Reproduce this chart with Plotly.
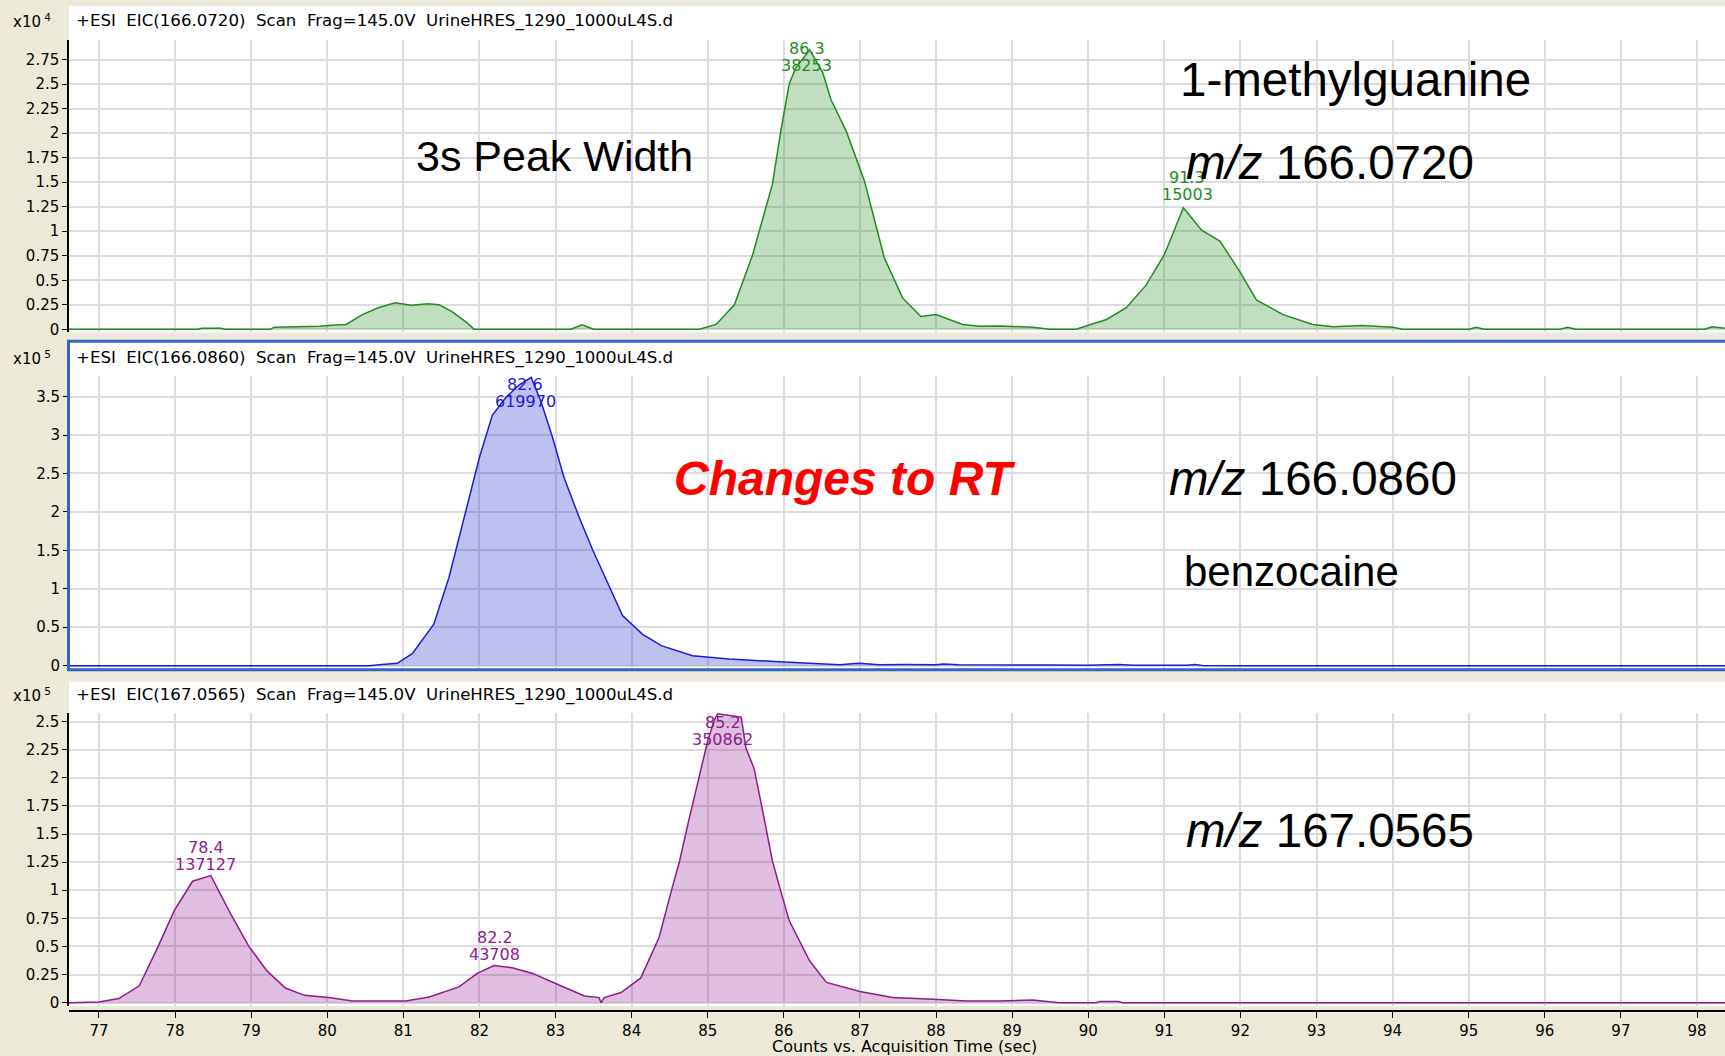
import plotly.graph_objects as go

W, H = 1725, 1056
HF = 1.007          # vertical compensation factor for the rendered page
FIG_H = round(H * HF)

# ---------------- data (retention time in sec, intensity in counts) ----------------
rt_green = [76.6, 78.3, 78.35, 78.6, 78.65, 79.25, 79.3, 79.9, 80.1, 80.25, 80.46, 80.67, 80.89,
            81.1, 81.32, 81.47, 81.64, 81.83, 81.93, 83.2, 83.35, 83.5, 84.89, 85.11, 85.35,
            85.59, 85.85, 85.96, 86.07, 86.16, 86.34, 86.51, 86.62, 86.82, 87.06, 87.32, 87.56,
            87.8, 88.0, 88.35, 88.57, 88.83, 89.27, 89.49, 89.84, 89.97, 90.24, 90.5, 90.76,
            91.0, 91.25, 91.49, 91.73, 91.99, 92.21, 92.56, 92.95, 93.22, 93.6, 94.0, 94.13,
            95.0, 95.1, 95.2, 96.2, 96.3, 96.4, 98.1, 98.2, 98.37]
int_green = [0, 0, 100, 100, 0, 0, 200, 300, 450, 500, 1500, 2200, 2700,
             2450, 2600, 2500, 1800, 700, 0, 0, 450, 0, 0, 500, 2500,
             7600, 14800, 20200, 25000, 26700, 28500, 26200, 23400, 20200, 15100, 7300, 3200,
             1300, 1500, 500, 300, 350, 200, 0, 0, 300, 1000, 2200, 4500,
             7600, 12400, 10100, 9000, 5900, 3000, 1500, 500, 250, 400, 200, 0,
             0, 200, 0, 0, 200, 0, 0, 250, 100]

rt_blue = [76.6, 80.55, 80.68, 80.92, 81.12, 81.4, 81.6, 81.76, 81.87, 82.0, 82.17, 82.35,
           82.52, 82.68, 82.81, 82.96, 83.11, 83.31, 83.49, 83.71, 83.88, 84.14, 84.39, 84.8,
           85.28, 85.94, 86.34, 86.73, 86.99, 87.25, 87.6, 88.0, 88.1, 88.3, 89.5, 90.0,
           90.4, 90.6, 91.3, 91.4, 91.5, 92.0, 98.37]
int_blue = [0, 0, 1000, 3000, 16000, 54000, 115000, 176000, 219000, 271000, 326000, 349000,
            365000, 375000, 343000, 297000, 245000, 193000, 150000, 102000, 65000, 41000, 26000, 13000,
            8700, 5000, 3500, 1300, 3000, 1300, 1500, 1000, 2000, 1000, 800, 600,
            1500, 500, 600, 1500, 300, 0, 0]

rt_purple = [76.6, 77.0, 77.26, 77.53, 77.77, 77.99, 78.23, 78.47, 78.73, 78.97, 79.21, 79.45,
             79.7, 80.02, 80.33, 81.03, 81.34, 81.73, 81.97, 82.19, 82.43, 82.7, 83.0, 83.38,
             83.57, 83.6, 83.64, 83.86, 84.12, 84.36, 84.52, 84.63, 84.74, 84.89, 85.0, 85.09,
             85.13, 85.33, 85.44, 85.5, 85.61, 85.72, 85.85, 85.96, 86.07, 86.34, 86.56, 87.0,
             87.43, 87.96, 88.4, 88.83, 89.27, 89.62, 90.1, 90.15, 90.4, 90.45, 98.37]
int_purple = [0, 600, 3600, 15000, 49000, 82000, 108000, 113000, 79000, 50000, 28000, 13000,
              6500, 4500, 1500, 1500, 5000, 14000, 26000, 33000, 31000, 26000, 17000, 6000,
              4500, 0, 4500, 9000, 22000, 58000, 99000, 126000, 159000, 203000, 233000, 252000,
              257000, 255000, 254000, 227000, 208000, 171000, 126000, 99000, 73000, 37000, 18000, 10000,
              4500, 3000, 1500, 1500, 2400, 0, 0, 1000, 1000, 0, 0]

# peak labels
p1_peak_rt = ["86.3", "91.3"]
p1_peak_area = ["38253", "15003"]
p2_peak_rt = ["82.6"]
p2_peak_area = ["619970"]
p3_peak_rt = ["78.4", "82.2", "85.2"]
p3_peak_area = ["137127", "43708", "350862"]

headers = ["+ESI  EIC(166.0720)  Scan  Frag=145.0V  UrineHRES_1290_1000uL4S.d",
           "+ESI  EIC(166.0860)  Scan  Frag=145.0V  UrineHRES_1290_1000uL4S.d",
           "+ESI  EIC(167.0565)  Scan  Frag=145.0V  UrineHRES_1290_1000uL4S.d"]
exponents = [4, 5, 5]

x_ticks = list(range(77, 99))
p1_yticks = [0, 0.25, 0.5, 0.75, 1, 1.25, 1.5, 1.75, 2, 2.25, 2.5, 2.75]
p2_yticks = [0, 0.5, 1, 1.5, 2, 2.5, 3, 3.5]
p3_yticks = [0, 0.25, 0.5, 0.75, 1, 1.25, 1.5, 1.75, 2, 2.25, 2.5]
x_title = "Counts vs. Acquisition Time (sec)"

# ---------------- layout helpers (pixel positions, reference pixels) ----------------
def py(px):
    return 1 - px / H

def px_(px):
    return px / W

SMALL = "DejaVu Sans"
BIG = "Liberation Sans, Arial, sans-serif"

# label block centers (data units) - annotation positions
label_y1 = [27806, 14592]
label_y2 = [354167]
label_y3 = [130632, 50490, 241941]

colors = [("#1E8C1E", "rgba(40,140,40,0.29)"),
          ("#1C1CD6", "rgba(40,50,205,0.30)"),
          ("#8E1B8E", "rgba(140,20,140,0.28)")]

fig = go.Figure()
series = [(rt_green, int_green), (rt_blue, int_blue), (rt_purple, int_purple)]
for i, (t, v) in enumerate(series):
    sfx = "" if i == 0 else str(i + 1)
    fig.add_trace(go.Scatter(x=t, y=v, mode="lines", xaxis="x" + sfx, yaxis="y" + sfx,
                             line=dict(color=colors[i][0], width=1.5),
                             fill="tozeroy", fillcolor=colors[i][1], hoverinfo="skip"))

xdom = [px_(69), 1]
xr = [76.606, 98.368]
grid = "#DCDCDC"

def xa(anchor, labels):
    d = dict(domain=xdom, range=xr, tickvals=x_ticks, showgrid=True, gridcolor=grid, gridwidth=1.5,
             zeroline=False, showline=False, ticks="", showticklabels=False, anchor=anchor, fixedrange=True)
    if labels:
        d.update(showticklabels=True, ticks="outside", ticklen=6, tickcolor="black", tickwidth=1,
                 showline=True, linecolor="black", linewidth=2, anchor="free", position=py(1010),
                 tickfont=dict(family=SMALL, size=15, color="black"),
                 ticktext=[str(v) for v in x_ticks])
    return d

def fmt(v):
    return ("%g" % v)

def ya(dom, rng, ticks, scale, line=True):
    return dict(domain=dom, range=rng, tickvals=[t * scale for t in ticks],
                ticktext=[fmt(t) for t in ticks], showgrid=True, gridcolor=grid, gridwidth=1.5,
                zeroline=False, showline=line, linecolor="black", linewidth=1.5,
                ticks="outside", ticklen=5, tickcolor="black",
                tickfont=dict(family=SMALL, size=15, color="black"), fixedrange=True)

shapes = [
    dict(type="rect", xref="paper", yref="paper", x0=px_(69), x1=1, y0=py(332), y1=py(6),
         fillcolor="white", line=dict(width=0), layer="below"),
    dict(type="rect", xref="paper", yref="paper", x0=px_(69), x1=1, y0=py(669), y1=py(341),
         fillcolor="white", line=dict(width=0), layer="below"),
    dict(type="rect", xref="paper", yref="paper", x0=px_(69), x1=1, y0=py(1005), y1=py(681),
         fillcolor="white", line=dict(width=0), layer="below"),
    dict(type="rect", xref="paper", yref="paper", x0=px_(68.5), x1=1.01, y0=py(669), y1=py(341),
         fillcolor="rgba(0,0,0,0)", line=dict(width=3, color="#2F66C8"), layer="above"),
]

ann = []
header_y = [21, 358, 694]
for h, e, yy in zip(headers, exponents, header_y):
    ann.append(dict(xref="paper", yref="paper", x=px_(74), y=py(yy), xanchor="left", yanchor="middle",
                    text=h.replace(" ", "\u00a0"), showarrow=False,
                    font=dict(family=SMALL, size=16.6, color="black")))
    ann.append(dict(xref="paper", yref="paper", x=px_(11), y=py(yy), xanchor="left", yanchor="middle",
                    text="x10<sup> %d</sup>" % e, showarrow=False,
                    font=dict(family=SMALL, size=15, color="black")))

def peak_labels(rts, areas, ys, sfx, color):
    for r, a, yv in zip(rts, areas, ys):
        for txt, sh in ((r, 8.5), (a, -8.5)):
            ann.append(dict(xref="x" + sfx, yref="y" + sfx, x=float(r), y=yv, text=txt,
                            showarrow=False, xanchor="center", yanchor="middle", yshift=sh,
                            font=dict(family=SMALL, size=16, color=color)))

peak_labels(p1_peak_rt, p1_peak_area, label_y1, "", colors[0][0])
peak_labels(p2_peak_rt, p2_peak_area, label_y2, "2", colors[1][0])
peak_labels(p3_peak_rt, p3_peak_area, label_y3, "3", colors[2][0])

def big(text, x, y, size=47, color="black"):
    ann.append(dict(xref="paper", yref="paper", x=px_(x), y=py(y), xanchor="left", yanchor="middle",
                    text=text, showarrow=False, font=dict(family=BIG, size=size, color=color)))

big("1-methylguanine", 1178, 79, size=47.5)
big("<i>m/z</i> 166.0720", 1184, 162, size=47.5)
big("3s Peak Width", 414, 156, size=43)
big("<b><i>Changes to RT</i></b>", 672, 478, size=48, color="#FF0000")
big("<i>m/z</i> 166.0860", 1167, 478, size=47.5)
big("benzocaine", 1182, 571, size=42)
big("<i>m/z</i> 167.0565", 1184, 830, size=47.5)

ann.append(dict(xref="paper", yref="paper", x=px_(904), y=py(1046), xanchor="center", yanchor="middle",
                text=x_title, showarrow=False, font=dict(family=SMALL, size=16, color="black")))

fig.update_layout(
    width=W, height=FIG_H, margin=dict(l=0, r=0, t=0, b=0), autosize=False,
    paper_bgcolor="#ECE9D8", plot_bgcolor="white", showlegend=False, hovermode=False,
    xaxis=xa("y", False), xaxis2=xa("y2", False), xaxis3=xa("y3", True),
    yaxis=ya([py(332), py(40)], [-306, 29490], p1_yticks, 1e4),
    yaxis2=ya([py(668), py(376)], [-3906, 376302], p2_yticks, 1e5, line=False),
    yaxis3=ya([py(1005), py(712)], [-2939, 257970], p3_yticks, 1e5),
    shapes=shapes, annotations=ann,
)

fig.write_html("out.html", config={"displayModeBar": False},
               post_script=("document.documentElement.style.margin='0';"
                            "document.documentElement.style.padding='0';"
                            "document.documentElement.style.overflow='hidden';"
                            "document.body.style.margin='0';document.body.style.padding='0';"
                            "document.body.style.overflow='hidden';"))
